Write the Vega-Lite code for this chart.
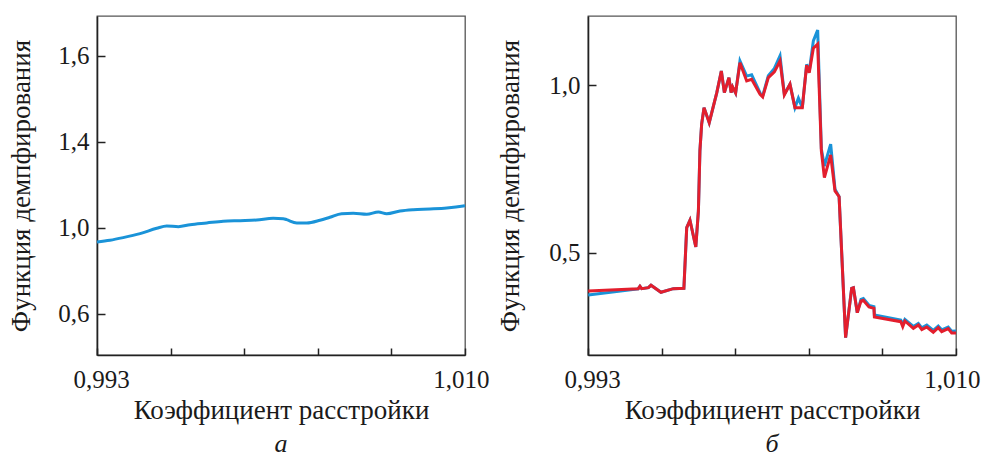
{
  "$schema": "https://vega.github.io/schema/vega-lite/v6.json",
  "padding": {"left": 7, "top": 15, "right": 0, "bottom": 0},
  "spacing": 123,
  "bounds": "flush",
  "datasets": {
    "a": [
      {"k": 0.99300, "d": 0.9349}, {"k": 0.99360, "d": 0.9428}, {"k": 0.99421, "d": 0.9549},
      {"k": 0.99499, "d": 0.9735}, {"k": 0.99576, "d": 0.9986}, {"k": 0.99622, "d": 1.0093},
      {"k": 0.99676, "d": 1.0060}, {"k": 0.99730, "d": 1.0153}, {"k": 0.99807, "d": 1.0233},
      {"k": 0.99883, "d": 1.0312}, {"k": 0.99961, "d": 1.0340}, {"k": 1.00038, "d": 1.0372},
      {"k": 1.00114, "d": 1.0451}, {"k": 1.00161, "d": 1.0433}, {"k": 1.00176, "d": 1.0386},
      {"k": 1.00223, "d": 1.0233}, {"k": 1.00269, "d": 1.0233}, {"k": 1.00330, "d": 1.0358},
      {"k": 1.00376, "d": 1.0498}, {"k": 1.00430, "d": 1.0665}, {"k": 1.00484, "d": 1.0684},
      {"k": 1.00546, "d": 1.0637}, {"k": 1.00600, "d": 1.0744}, {"k": 1.00638, "d": 1.0665},
      {"k": 1.00700, "d": 1.0791}, {"k": 1.00761, "d": 1.0851}, {"k": 1.00838, "d": 1.0884},
      {"k": 1.00916, "d": 1.0930}, {"k": 1.00992, "d": 1.1023}, {"k": 1.01000, "d": 1.1037}
    ],
    "blue": [
      {"k": 0.99301, "d": 0.3749}, {"k": 0.99532, "d": 0.3930}, {"k": 0.99540, "d": 0.4007},
      {"k": 0.99548, "d": 0.3936}, {"k": 0.99579, "d": 0.3966}, {"k": 0.99591, "d": 0.4037},
      {"k": 0.99637, "d": 0.3829}, {"k": 0.99694, "d": 0.3936}, {"k": 0.99743, "d": 0.3948},
      {"k": 0.99756, "d": 0.5754}, {"k": 0.99771, "d": 0.5974}, {"k": 0.99798, "d": 0.5179},
      {"k": 0.99810, "d": 0.6251}, {"k": 0.99817, "d": 0.804}, {"k": 0.99825, "d": 0.884},
      {"k": 0.99836, "d": 0.933}, {"k": 0.99860, "d": 0.888}, {"k": 0.99895, "d": 0.9777},
      {"k": 0.99916, "d": 1.0423}, {"k": 0.99930, "d": 0.9777}, {"k": 0.99951, "d": 1.0223},
      {"k": 0.99961, "d": 0.9777}, {"k": 0.99968, "d": 0.9946}, {"k": 0.99982, "d": 0.9768},
      {"k": 1.00002, "d": 1.072}, {"k": 1.00033, "d": 1.027}, {"k": 1.00056, "d": 1.031},
      {"k": 1.00095, "d": 0.977}, {"k": 1.00107, "d": 0.968}, {"k": 1.00133, "d": 1.028},
      {"k": 1.00161, "d": 1.050}, {"k": 1.00187, "d": 1.087}, {"k": 1.00207, "d": 0.973},
      {"k": 1.00233, "d": 1.003}, {"k": 1.00256, "d": 0.933}, {"k": 1.00272, "d": 0.961},
      {"k": 1.00290, "d": 0.933}, {"k": 1.00310, "d": 1.062}, {"k": 1.00322, "d": 1.040},
      {"k": 1.00341, "d": 1.132}, {"k": 1.00361, "d": 1.164}, {"k": 1.00378, "d": 0.810},
      {"k": 1.00392, "d": 0.759}, {"k": 1.00421, "d": 0.824}, {"k": 1.00441, "d": 0.690},
      {"k": 1.00460, "d": 0.6678}, {"k": 1.00490, "d": 0.2476}, {"k": 1.00518, "d": 0.3948},
      {"k": 1.00526, "d": 0.3966}, {"k": 1.00544, "d": 0.3221}, {"k": 1.00561, "d": 0.3615},
      {"k": 1.00572, "d": 0.364}, {"k": 1.00598, "d": 0.344}, {"k": 1.00621, "d": 0.340},
      {"k": 1.00623, "d": 0.315}, {"k": 1.00745, "d": 0.300}, {"k": 1.00754, "d": 0.287},
      {"k": 1.00764, "d": 0.302}, {"k": 1.00803, "d": 0.281}, {"k": 1.00826, "d": 0.290},
      {"k": 1.00842, "d": 0.277}, {"k": 1.00865, "d": 0.285}, {"k": 1.00895, "d": 0.269},
      {"k": 1.00918, "d": 0.282}, {"k": 1.00934, "d": 0.271}, {"k": 1.00964, "d": 0.279},
      {"k": 1.00980, "d": 0.267}, {"k": 1.01000, "d": 0.2676}
    ],
    "red": [
      {"k": 0.99301, "d": 0.3868}, {"k": 0.99532, "d": 0.3936}, {"k": 0.99540, "d": 0.4007},
      {"k": 0.99548, "d": 0.3936}, {"k": 0.99579, "d": 0.3966}, {"k": 0.99591, "d": 0.4037},
      {"k": 0.99637, "d": 0.3829}, {"k": 0.99694, "d": 0.3936}, {"k": 0.99743, "d": 0.3948},
      {"k": 0.99756, "d": 0.5754}, {"k": 0.99771, "d": 0.5974}, {"k": 0.99798, "d": 0.5179},
      {"k": 0.99810, "d": 0.6251}, {"k": 0.99817, "d": 0.804}, {"k": 0.99825, "d": 0.884},
      {"k": 0.99836, "d": 0.933}, {"k": 0.99860, "d": 0.888}, {"k": 0.99895, "d": 0.9777},
      {"k": 0.99916, "d": 1.0423}, {"k": 0.99930, "d": 0.9777}, {"k": 0.99951, "d": 1.0223},
      {"k": 0.99961, "d": 0.9777}, {"k": 0.99968, "d": 0.9946}, {"k": 0.99982, "d": 0.9768},
      {"k": 1.00002, "d": 1.067}, {"k": 1.00033, "d": 1.0125}, {"k": 1.00056, "d": 1.0176},
      {"k": 1.00095, "d": 0.9729}, {"k": 1.00107, "d": 0.9648}, {"k": 1.00133, "d": 1.0223},
      {"k": 1.00161, "d": 1.0393}, {"k": 1.00187, "d": 1.0721}, {"k": 1.00207, "d": 0.9708},
      {"k": 1.00233, "d": 1.0027}, {"k": 1.00256, "d": 0.933}, {"k": 1.00272, "d": 0.933},
      {"k": 1.00290, "d": 0.933}, {"k": 1.00310, "d": 1.0593}, {"k": 1.00322, "d": 1.0372},
      {"k": 1.00341, "d": 1.110}, {"k": 1.00361, "d": 1.122}, {"k": 1.00378, "d": 0.804},
      {"k": 1.00392, "d": 0.7244}, {"k": 1.00421, "d": 0.792}, {"k": 1.00441, "d": 0.6847},
      {"k": 1.00460, "d": 0.6678}, {"k": 1.00490, "d": 0.2476}, {"k": 1.00518, "d": 0.3948},
      {"k": 1.00526, "d": 0.3966}, {"k": 1.00544, "d": 0.3221}, {"k": 1.00561, "d": 0.357},
      {"k": 1.00572, "d": 0.359}, {"k": 1.00598, "d": 0.339}, {"k": 1.00621, "d": 0.335},
      {"k": 1.00623, "d": 0.3093}, {"k": 1.00745, "d": 0.2953}, {"k": 1.00754, "d": 0.2804},
      {"k": 1.00764, "d": 0.2974}, {"k": 1.00803, "d": 0.2756}, {"k": 1.00826, "d": 0.2855},
      {"k": 1.00842, "d": 0.2715}, {"k": 1.00865, "d": 0.2795}, {"k": 1.00895, "d": 0.2637},
      {"k": 1.00918, "d": 0.2774}, {"k": 1.00934, "d": 0.2655}, {"k": 1.00964, "d": 0.2745},
      {"k": 1.00980, "d": 0.2616}, {"k": 1.01000, "d": 0.2616}
    ]
  },
  "hconcat": [
    {
      "width": 368,
      "height": 339,
      "title": {"text": "а", "orient": "bottom", "offset": 8},
      "data": {"name": "a"},
      "mark": {"type": "line", "color": "#1a93d8", "strokeWidth": 3, "interpolate": "monotone"},
      "encoding": {
        "x": {
          "field": "k", "type": "quantitative",
          "scale": {"domain": [0.993, 1.010], "nice": false, "zero": false},
          "axis": {
            "title": "Коэффициент расстройки",
            "values": [0.993, 0.9964, 0.9998, 1.0032, 1.0066, 1.010],
            "labelExpr": "datum.value < 0.9935 ? '0,993' : (datum.value > 1.0095 ? '1,010' : '')",
            "tickSize": -7, "labelPadding": 19, "labelFlush": true, "labelFlushOffset": 24, "titlePadding": 5
          }
        },
        "y": {
          "field": "d", "type": "quantitative",
          "scale": {"domain": [0.409, 1.986], "nice": false, "zero": false},
          "axis": {
            "title": "Функция демпфирования",
            "values": [0.6, 1.0, 1.4, 1.8],
            "labelExpr": "datum.value > 1.7 ? '1,6' : replace(format(datum.value, '.1f'), '.', ',')",
            "tickSize": -8, "labelPadding": 16, "titlePadding": 22
          }
        }
      }
    },
    {
      "width": 368,
      "height": 339,
      "title": {"text": "б", "orient": "bottom", "offset": 8},
      "encoding": {
        "x": {
          "field": "k", "type": "quantitative",
          "scale": {"domain": [0.993, 1.010], "nice": false, "zero": false},
          "axis": {
            "title": "Коэффициент расстройки",
            "values": [0.993, 0.9964, 0.9998, 1.0032, 1.0066, 1.010],
            "labelExpr": "datum.value < 0.9935 ? '0,993' : (datum.value > 1.0095 ? '1,010' : '')",
            "tickSize": -7, "labelPadding": 19, "labelFlush": true, "labelFlushOffset": 24, "titlePadding": 5
          }
        },
        "y": {
          "field": "d", "type": "quantitative",
          "scale": {"domain": [0.196, 1.206], "nice": false, "zero": false},
          "axis": {
            "title": "Функция демпфирования",
            "values": [0.5, 1.0],
            "labelExpr": "replace(format(datum.value, '.1f'), '.', ',')",
            "tickSize": -8, "labelPadding": 16, "titlePadding": 24
          }
        }
      },
      "layer": [
        {"data": {"name": "blue"}, "mark": {"type": "line", "color": "#1a93d8", "strokeWidth": 3}},
        {"data": {"name": "red"}, "mark": {"type": "line", "color": "#e31e2d", "strokeWidth": 3}}
      ]
    }
  ],
  "config": {
    "font": "Liberation Serif",
    "view": {"stroke": "#555", "strokeWidth": 1.3},
    "axis": {
      "grid": false,
      "domainColor": "#222", "domainWidth": 1.6,
      "tickColor": "#222", "tickWidth": 1.5,
      "labelFont": "Liberation Serif", "labelFontSize": 25, "labelColor": "#1a1a1a",
      "titleFont": "Liberation Serif", "titleFontSize": 27, "titleFontWeight": "normal", "titleColor": "#1a1a1a"
    },
    "title": {"font": "Liberation Serif", "fontSize": 26, "fontStyle": "italic", "fontWeight": "normal", "color": "#1a1a1a", "anchor": "middle"}
  }
}
